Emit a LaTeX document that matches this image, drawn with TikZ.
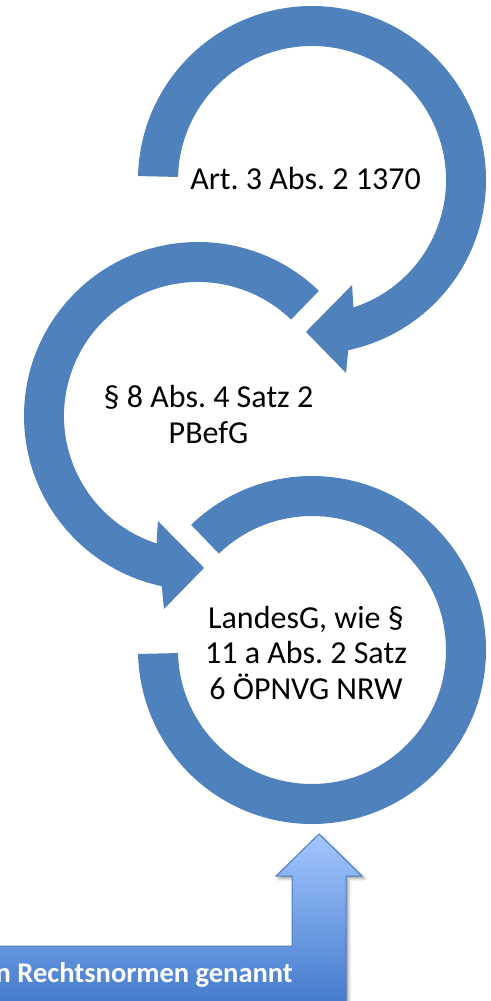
\documentclass[tikz,border=0pt]{standalone}
\usepackage{fontspec}
\setmainfont{Carlito}
\usetikzlibrary{calc,shadows.blur}
\definecolor{ringblue}{HTML}{4F81BD}
\definecolor{arrowtop}{HTML}{A2C6FF}
\definecolor{arrowbot}{HTML}{3E76C8}
\definecolor{arrowedge}{HTML}{4A7EBB}
\frenchspacing
\begin{document}
\begin{tikzpicture}[x=1pt,y=-1pt,
  ring/.style={fill=ringblue,draw=none},
  normtext/.style={font=\fontsize{32}{35.5}\selectfont,align=center,inner sep=0pt,anchor=base},
  upshape/.style={blur shadow={shadow xshift=2.5pt,shadow yshift=-2.5pt,shadow blur radius=3pt,shadow opacity=40},
    top color=arrowtop,bottom color=arrowbot,draw=arrowedge,line width=1pt,line join=miter},
]
\useasboundingbox (0,0) rectangle (490,1001);
\clip (0,0) rectangle (490,1001);

\coordinate (c1) at (312,180);
\coordinate (c2) at (198,416);
\coordinate (c3) at (312,650);

% top ring: clockwise from the left, arrowhead at the bottom
\fill[ring] ($(c1)+(181.3:174)$) arc[start angle=181.3,end angle=438,radius=174]
  -- ($(c1)+(80:196)$) -- ($(c1)+(92.3:152)$) -- ($(c1)+(69.1:112.4)$)
  -- ($(c1)+(432:134)$) arc[start angle=432,end angle=181.3,radius=134] -- cycle;

% middle ring: counter-clockwise, arrowhead at the bottom
\fill[ring] ($(c2)+(-46:174)$) arc[start angle=-46,end angle=-258,radius=174]
  -- ($(c2)+(100:196)$) -- ($(c2)+(87.7:152)$) -- ($(c2)+(110.9:112.4)$)
  -- ($(c2)+(-252:134)$) arc[start angle=-252,end angle=-46,radius=134] -- cycle;

% bottom ring: clockwise, ends flat on the left
\fill[ring] ($(c3)+(226:174)$) arc[start angle=226,end angle=538.7,radius=174]
  -- ($(c3)+(538.7:134)$) arc[start angle=538.7,end angle=226,radius=134] -- cycle;

% ring captions (anchor base = baseline of the last line)
\node[normtext] (t1) at (305.5,189) {Art. 3 Abs. 2 1370};
\node[normtext] (t2) at (208.5,443) {§ 8 Abs. 4 Satz 2\\PBefG};
\node[normtext] (t3) at (306,699) {LandesG, wie §\\11 a Abs. 2 Satz\\6 ÖPNVG NRW};

% bent-up arrow at the bottom
\path[upshape] (-10,946) -- (292,946) -- (292,876) -- (276,876) -- (319,834)
  -- (362,876) -- (346,876) -- (346,1015) -- (-10,1015) -- cycle;
\node[font=\bfseries\fontsize{28.5}{32}\selectfont,text=white,anchor=base east,inner sep=0pt]
  (src) at (293,982) {n Rechtsnormen genannt};
\end{tikzpicture}
\end{document}
